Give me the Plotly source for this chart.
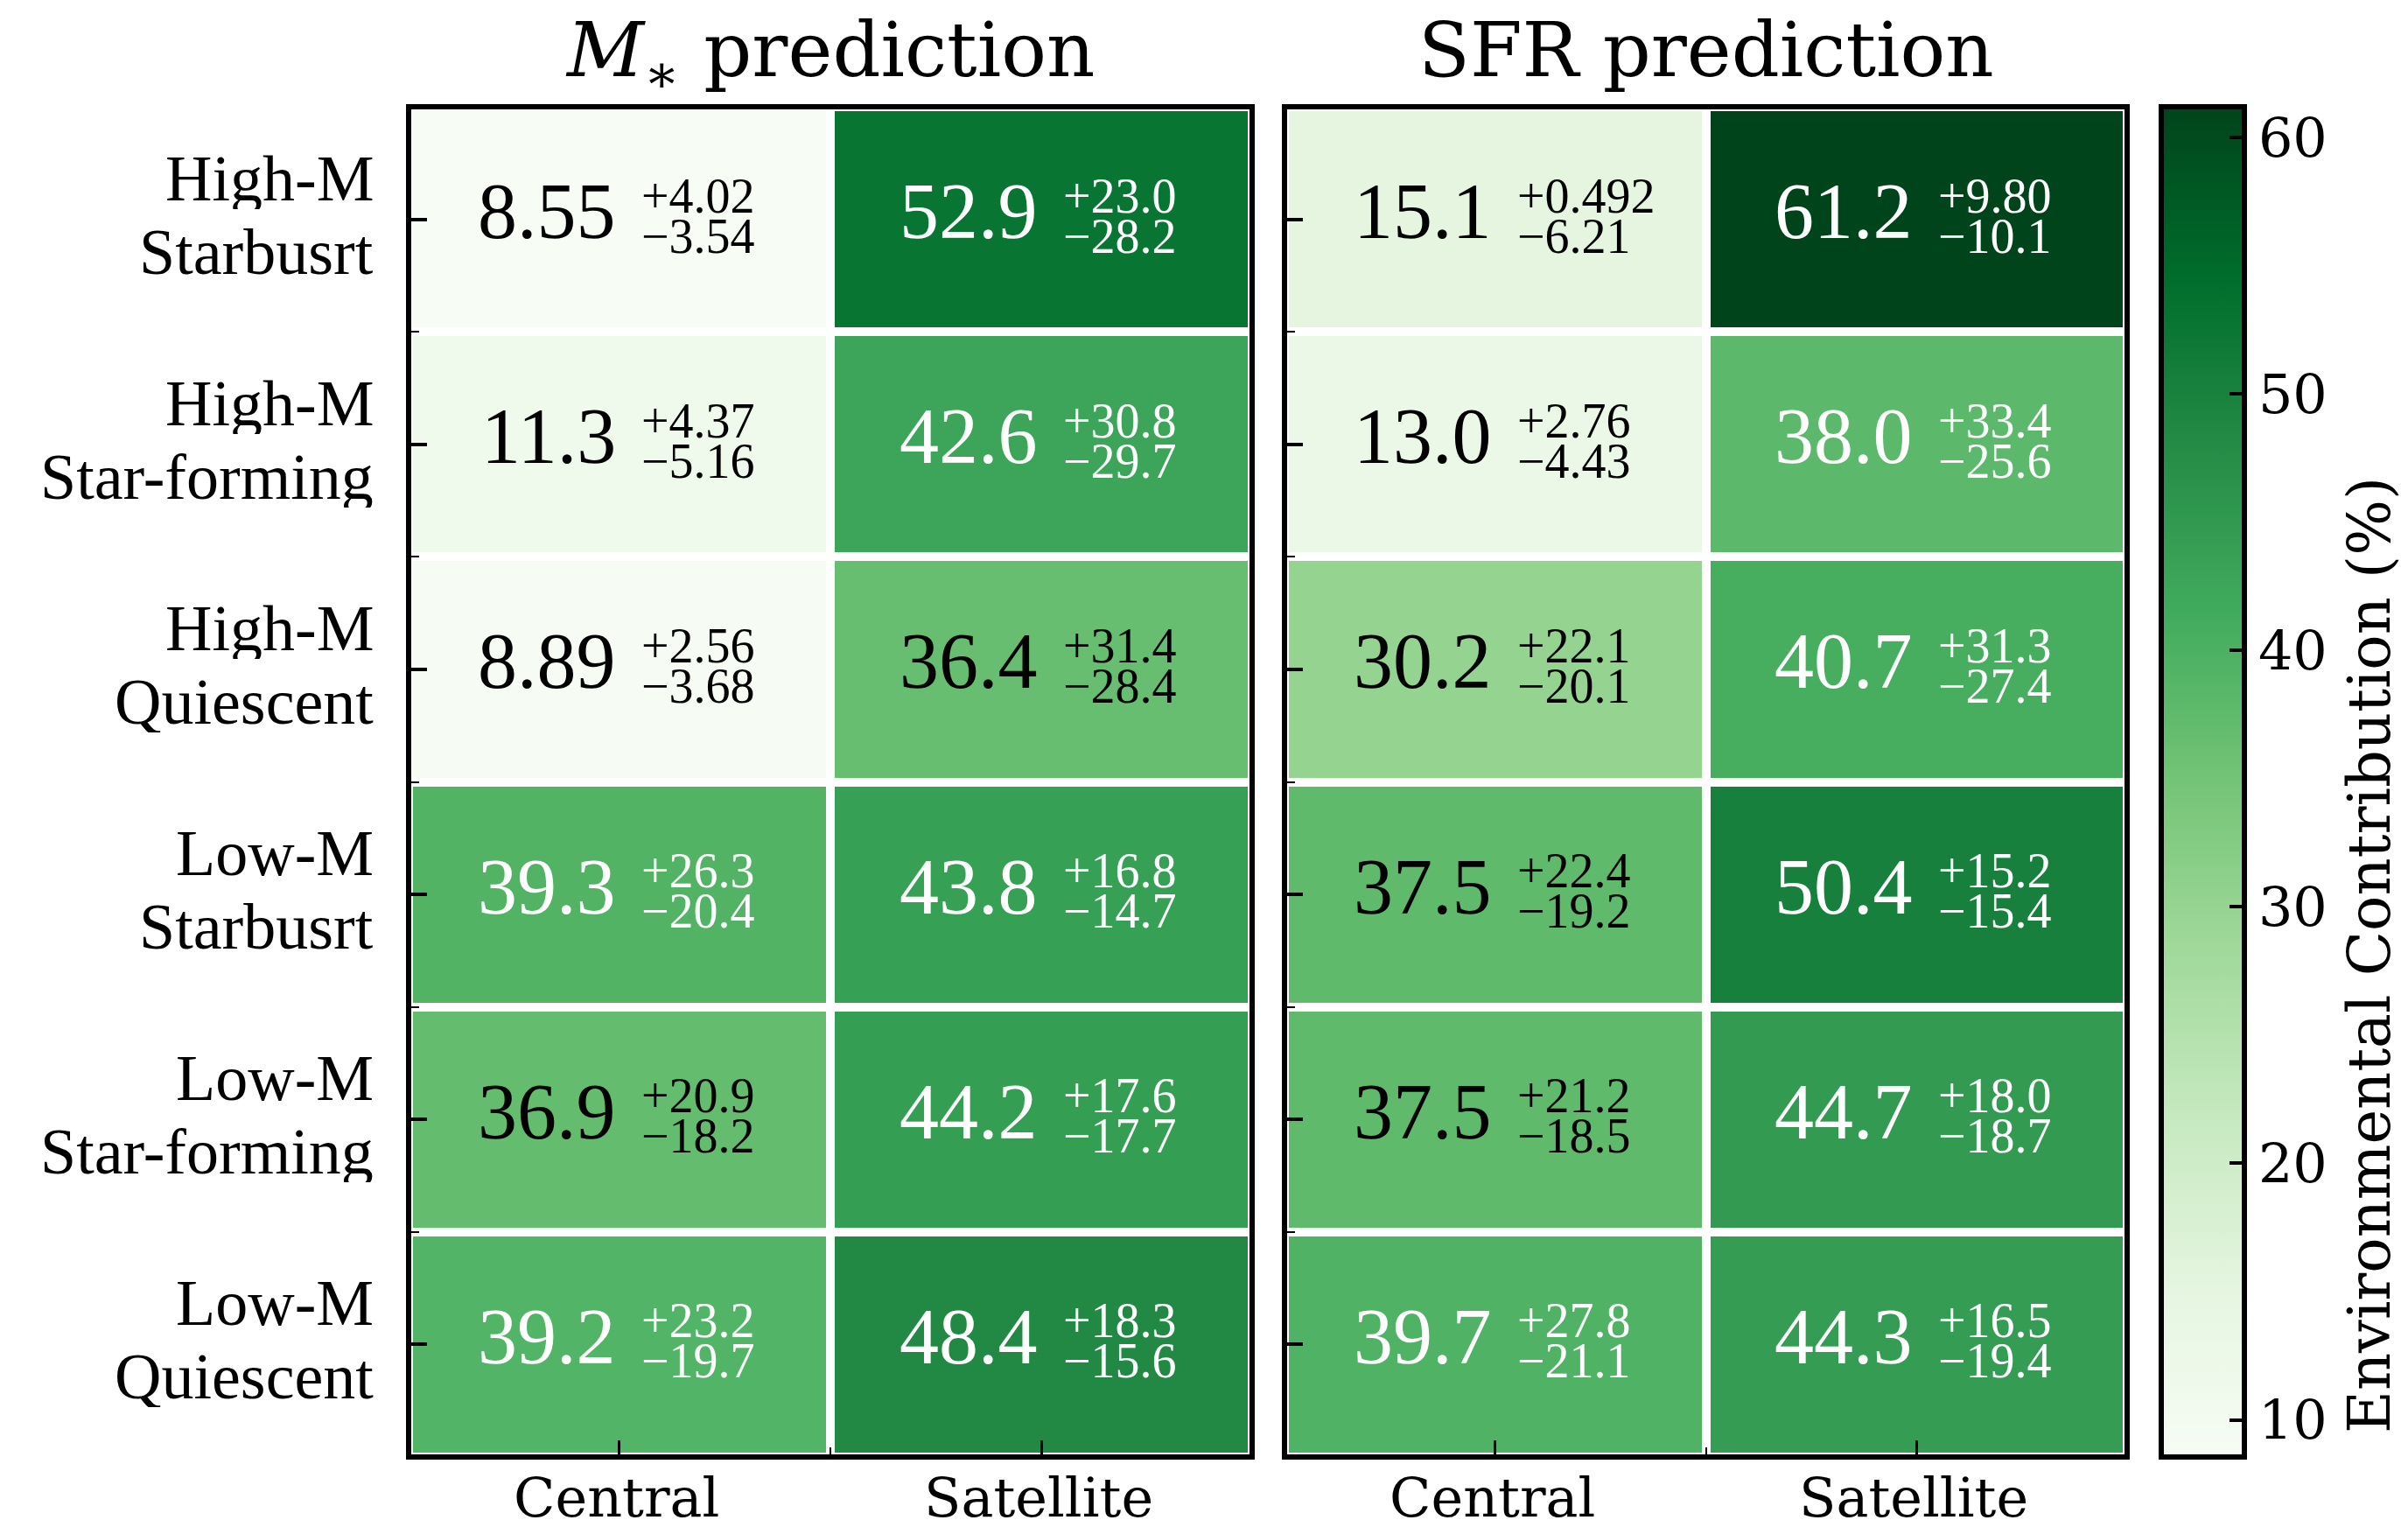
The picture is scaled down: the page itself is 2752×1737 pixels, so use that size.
import plotly.graph_objects as go

# ---- data -------------------------------------------------------------
row_line1 = ["High-M", "High-M", "High-M", "Low-M", "Low-M", "Low-M"]
row_line2 = ["Starbusrt", "Star-forming", "Quiescent", "Starbusrt", "Star-forming", "Quiescent"]
col_labels = ["Central", "Satellite"]

# M* prediction: [central, satellite] per row
mstar_val = [[8.55, 52.9], [11.3, 42.6], [8.89, 36.4], [39.3, 43.8], [36.9, 44.2], [39.2, 48.4]]
mstar_up = [["4.02", "23.0"], ["4.37", "30.8"], ["2.56", "31.4"], ["26.3", "16.8"], ["20.9", "17.6"], ["23.2", "18.3"]]
mstar_lo = [["3.54", "28.2"], ["5.16", "29.7"], ["3.68", "28.4"], ["20.4", "14.7"], ["18.2", "17.7"], ["19.7", "15.6"]]
mstar_txt = [["8.55", "52.9"], ["11.3", "42.6"], ["8.89", "36.4"], ["39.3", "43.8"], ["36.9", "44.2"], ["39.2", "48.4"]]

# SFR prediction
sfr_val = [[15.1, 61.2], [13.0, 38.0], [30.2, 40.7], [37.5, 50.4], [37.5, 44.7], [39.7, 44.3]]
sfr_up = [["0.492", "9.80"], ["2.76", "33.4"], ["22.1", "31.3"], ["22.4", "15.2"], ["21.2", "18.0"], ["27.8", "16.5"]]
sfr_lo = [["6.21", "10.1"], ["4.43", "25.6"], ["20.1", "27.4"], ["19.2", "15.4"], ["18.5", "18.7"], ["21.1", "19.4"]]
sfr_txt = [["15.1", "61.2"], ["13.0", "38.0"], ["30.2", "40.7"], ["37.5", "50.4"], ["37.5", "44.7"], ["39.7", "44.3"]]

panel_titles = ["<i>M</i><sub>∗</sub> prediction", "SFR prediction"]
cbar_ticks = [10, 20, 30, 40, 50, 60]
cbar_title = "Environmental Contribution (%)"

# ---- style --------------------------------------------------------------
W, H = 2752, 1737
SERIF = "DejaVu Serif"
TIMES = "Liberation Serif"
greens = ["#f7fcf5", "#e5f5e0", "#c7e9c0", "#a1d99b", "#74c476",
          "#41ab5d", "#238b45", "#006d2c", "#00441b"]
colorscale = [[i / 8, c] for i, c in enumerate(greens)]
all_vals = [v for m in (mstar_val, sfr_val) for r in m for v in r]
zmin, zmax = min(all_vals), max(all_vals)
white_above = 37.8

# panel geometry in pixels (inner plot area)
px_left = [(470, 1428), (1471, 2428)]
px_top, px_bot = 125, 1662
title_bottom = [120, 108]  # the subscripted title has a taller text box

fig = go.Figure()

panels = [(mstar_val, mstar_txt, mstar_up, mstar_lo), (sfr_val, sfr_txt, sfr_up, sfr_lo)]
n_rows = len(row_line1)
xs = list(range(len(col_labels)))
ys = list(range(n_rows))

annotations = []
for p, (vals, txt, up, lo) in enumerate(panels):
    xa = "x" if p == 0 else "x2"
    ya = "y" if p == 0 else "y2"
    fig.add_trace(go.Heatmap(
        z=vals, x=xs, y=ys, coloraxis="coloraxis",
        xgap=10, ygap=10, hoverinfo="skip", xaxis=xa, yaxis=ya,
    ))
    for r in range(n_rows):
        for c in range(len(col_labels)):
            col = "white" if vals[r][c] > white_above else "black"
            annotations.append(dict(
                x=c, y=r, xref=xa, yref=ya, text=txt[r][c], showarrow=False,
                xanchor="right", yanchor="middle", xshift=-2, yshift=9,
                font=dict(family=TIMES, size=90, color=col)))
            annotations.append(dict(
                x=c, y=r, xref=xa, yref=ya, text="+" + up[r][c], showarrow=False,
                xanchor="left", yanchor="middle", xshift=24, yshift=27, borderpad=0,
                height=40, valign="middle",
                font=dict(family=TIMES, size=56, color=col)))
            annotations.append(dict(
                x=c, y=r, xref=xa, yref=ya, text="\u2212" + lo[r][c], showarrow=False,
                xanchor="left", yanchor="middle", xshift=24, yshift=-19, borderpad=0,
                height=40, valign="middle",
                font=dict(family=TIMES, size=56, color=col)))

    # column labels under each panel
    for c in range(len(col_labels)):
        annotations.append(dict(
            x=c, y=1 - 1711 / H, xref=xa, yref="paper", text=col_labels[c],
            showarrow=False, xanchor="center", yanchor="middle", xshift=-3, borderpad=0,
            height=50, valign="middle",
            font=dict(family=SERIF, size=62, color="black")))

    # panel title
    x0, x1 = px_left[p]
    annotations.append(dict(
        x=(x0 + x1) / 2 / W, y=1 - title_bottom[p] / H, xref="paper", yref="paper",
        text=panel_titles[p], showarrow=False, xanchor="center", yanchor="bottom",
        borderpad=0, font=dict(family=SERIF, size=86, color="black")))

# two-line row labels, placed on the left panel's row positions
for r in range(n_rows):
    for line, shift in ((row_line1[r], 47), (row_line2[r], -37)):
        annotations.append(dict(
            x=428 / W, y=r, xref="paper", yref="y", text=line, showarrow=False,
            xanchor="right", yanchor="middle", yshift=shift, borderpad=0,
            height=70, valign="middle",
            font=dict(family=TIMES, size=74, color="black")))

# colourbar label
annotations.append(dict(
    x=2708 / W, y=1 - 1092 / H, xref="paper", yref="paper", text=cbar_title,
    textangle=-90, showarrow=False, xanchor="center", yanchor="middle", borderpad=0,
    font=dict(family=SERIF, size=67, color="black")))

axis_common = dict(showline=True, linecolor="black", linewidth=6, mirror=True,
                   showgrid=False, zeroline=False, ticks="inside", tickcolor="black",
                   automargin=False, showticklabels=False)

for p in range(2):
    x0, x1 = px_left[p]
    col_w = (x1 - x0) / 2
    row_h = (px_bot - px_top) / n_rows
    ex = 3 / col_w
    ey = 3 / row_h
    xkey = "xaxis" if p == 0 else "xaxis2"
    ykey = "yaxis" if p == 0 else "yaxis2"
    fig.update_layout(**{
        xkey: dict(axis_common, domain=[x0 / W, x1 / W], anchor="y" if p == 0 else "y2",
                   range=[-0.5 + ex, 1.5 - ex], tickmode="array", tickvals=xs,
                   ticklen=16, tickwidth=3,
                   minor=dict(tickmode="array", tickvals=[0.5], ticks="inside",
                              ticklen=8, tickwidth=2, tickcolor="black")),
        ykey: dict(axis_common, domain=[1 - px_bot / H, 1 - px_top / H],
                   anchor="x" if p == 0 else "x2",
                   range=[n_rows - 0.5 - ey, -0.5 + ey], tickmode="array", tickvals=ys,
                   ticklen=18, tickwidth=4,
                   minor=dict(tickmode="array", tickvals=[i + 0.5 for i in range(n_rows - 1)],
                              ticks="inside", ticklen=9, tickwidth=2, tickcolor="black")),
    })

fig.update_layout(
    width=W, height=H, margin=dict(l=0, r=0, t=0, b=0, autoexpand=False),
    paper_bgcolor="white", plot_bgcolor="white",
    coloraxis=dict(
        colorscale=colorscale, cmin=zmin, cmax=zmax,
        colorbar=dict(
            x=2470 / W, xanchor="left", xpad=0,
            y=1 - (122 + 1665) / 2 / H, yanchor="middle", ypad=0,
            len=1543, lenmode="pixels", thickness=95, thicknessmode="pixels",
            outlinewidth=6, outlinecolor="black",
            ticks="inside", ticklen=20, tickwidth=4, tickcolor="black",
            tickvals=cbar_ticks, tickfont=dict(family=SERIF, size=62, color="black"),
        ),
    ),
    annotations=annotations,
    showlegend=False,
)

fig.write_html("out.html")
